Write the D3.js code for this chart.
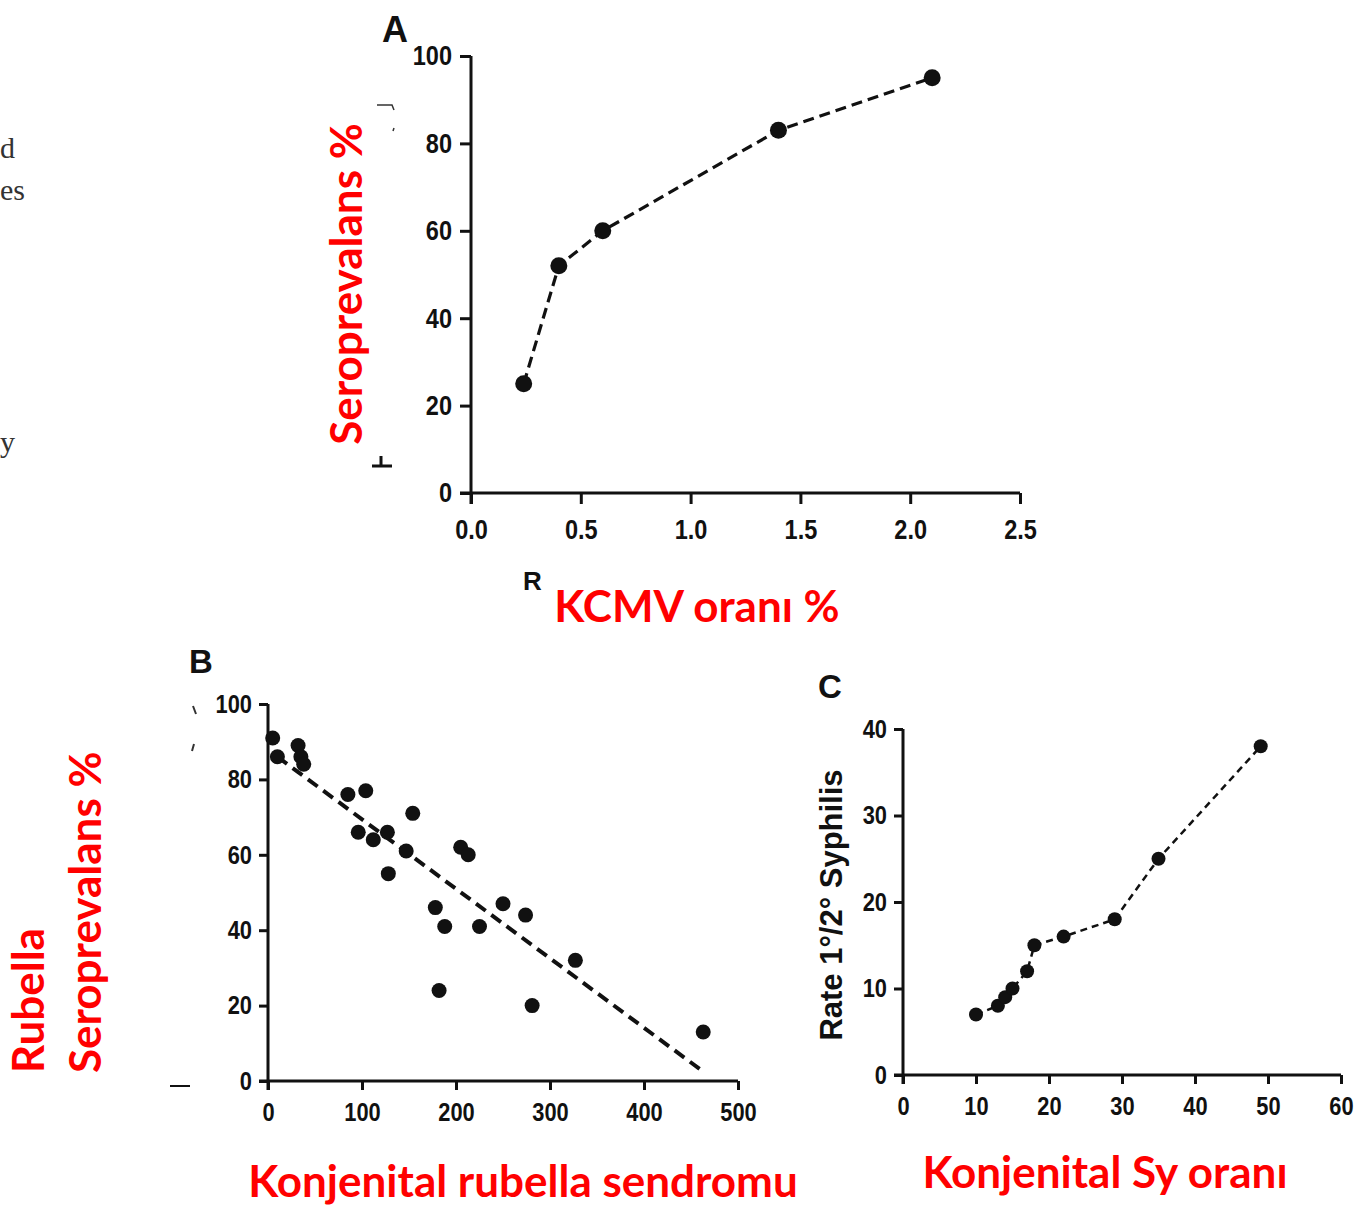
<!DOCTYPE html>
<html>
<head>
<meta charset="utf-8">
<script src="https://cdn.jsdelivr.net/npm/d3@7"></script>
<style>
  body { margin: 0; background: #fff; }
  svg { display: block; }
  .tick text { font-family: "Liberation Sans", Arial, sans-serif; font-weight: bold; fill: #111; }
  .red { font-family: Lato, "Open Sans", sans-serif; font-weight: bold; fill: #ff0000; }
</style>
</head>
<body>
<svg id="chart"></svg>
<script>
// panel A - KCMV
const aX = [0.24, 0.4, 0.6, 1.4, 2.1];
const aY = [25, 52, 60, 83, 95];
const aXTicks = ['0.0', '0.5', '1.0', '1.5', '2.0', '2.5'];
const aYTicks = [0, 20, 40, 60, 80, 100];

// panel B - rubella
const bX = [5, 10, 32, 35, 38, 85, 104, 96, 112, 127, 128, 147, 154, 178, 182, 188, 205, 213, 225, 250, 274, 281, 327, 463];
const bY = [91, 86, 89, 86, 84, 76, 77, 66, 64, 66, 55, 61, 71, 46, 24, 41, 62, 60, 41, 47, 44, 20, 32, 13];
const bFitX = [10, 463];
const bFitY = [86, 2.5];
const bXTicks = [0, 100, 200, 300, 400, 500];
const bYTicks = [0, 20, 40, 60, 80, 100];

// panel C - syphilis
const cX = [10, 13, 14, 15, 17, 18, 22, 29, 35, 49];
const cY = [7, 8, 9, 10, 12, 15, 16, 18, 25, 38];
const cXTicks = [0, 10, 20, 30, 40, 50, 60];
const cYTicks = [0, 10, 20, 30, 40];

const [width, height] = [1366, 1205];

let svg = d3.select('#chart')
  .attr('width', width)
  .attr('height', height)

function panel(o) {
  let x = d3.scaleLinear().domain(o.xDomain).range([o.left, o.right])
  let y = d3.scaleLinear().domain(o.yDomain).range([o.bottom, o.top])
  let g = svg.append('g')

  let xAxis = g.append('g')
    .attr('transform', 'translate(0,' + o.bottom + ')')
    .call(d3.axisBottom(x).tickValues(o.xTicks.map(Number)).tickSizeOuter(0).tickSize(o.tick)
      .tickPadding(o.xPad).tickFormat((d, i) => o.xTicks[i]))
  let yAxis = g.append('g')
    .attr('transform', 'translate(' + o.left + ',0)')
    .call(d3.axisLeft(y).tickValues(o.yTicks).tickSizeOuter(0).tickSize(o.tick).tickPadding(o.yPad))

  ;[xAxis, yAxis].forEach(a => {
    a.select('.domain').attr('stroke', '#111').attr('stroke-width', o.lw)
    a.selectAll('.tick line').attr('stroke', '#111').attr('stroke-width', o.lw)
    a.selectAll('.tick text')
      .style('font-size', o.fs + 'px')
      // condensed look of the original labels
      .each(function() {
        let w = this.getComputedTextLength()
        d3.select(this).attr('textLength', w * 0.84).attr('lengthAdjust', 'spacingAndGlyphs')
      })
  })
  // x domain line starts at the y axis, y axis goes down to the tick end
  xAxis.select('.domain').attr('d', 'M' + (o.left - o.tick) + ',0H' + o.right)
  yAxis.select('.domain').attr('d', 'M0,' + o.top + 'V' + (o.bottom + o.tick))

  let pts = o.xs.map((v, i) => [v, o.ys[i]])
  if (o.connect) {
    g.append('path')
      .attr('d', d3.line().x(d => x(d[0])).y(d => y(d[1]))(pts))
      .attr('fill', 'none')
      .attr('stroke', '#111')
      .attr('stroke-width', o.dashW)
      .attr('stroke-dasharray', o.dash)
  }
  if (o.fit) {
    g.append('line')
      .attr('x1', x(o.fit[0][0])).attr('y1', y(o.fit[1][0]))
      .attr('x2', x(o.fit[0][1])).attr('y2', y(o.fit[1][1]))
      .attr('stroke', '#111')
      .attr('stroke-width', o.dashW)
      .attr('stroke-dasharray', o.dash)
  }
  g.selectAll('circle')
    .data(pts)
    .enter()
    .append('circle')
    .attr('cx', d => x(d[0]))
    .attr('cy', d => y(d[1]))
    .attr('r', o.r)
    .attr('fill', '#111')

  g.append('text')
    .text(o.letter)
    .attr('x', o.letterX)
    .attr('y', o.letterY)
    .style('font-family', 'Liberation Sans, Arial, sans-serif')
    .style('font-weight', 'bold')
    .style('font-size', o.letterSize + 'px')
    .attr('fill', '#111')
  return g
}

panel({
  xDomain: [0, 2.5], yDomain: [0, 100],
  left: 471, right: 1020, top: 56, bottom: 493,
  xTicks: aXTicks, yTicks: aYTicks, tick: 11, xPad: 15, yPad: 8, lw: 3, fs: 28,
  xs: aX, ys: aY, connect: true, dash: '11,6', dashW: 3.2, r: 8.5,
  letter: 'A', letterX: 382, letterY: 42, letterSize: 36
})

panel({
  xDomain: [0, 500], yDomain: [0, 100],
  left: 268, right: 738, top: 704, bottom: 1081,
  xTicks: bXTicks, yTicks: bYTicks, tick: 9, xPad: 13, yPad: 7, lw: 3, fs: 26,
  xs: bX, ys: bY, connect: false, fit: [bFitX, bFitY], dash: '12,7', dashW: 4, r: 7.5,
  letter: 'B', letterX: 189, letterY: 673, letterSize: 33
})

panel({
  xDomain: [0, 60], yDomain: [0, 40],
  left: 903, right: 1341, top: 729, bottom: 1075,
  xTicks: cXTicks, yTicks: cYTicks, tick: 9, xPad: 13, yPad: 7, lw: 3, fs: 26,
  xs: cX, ys: cY, connect: true, dash: '7,5', dashW: 2.5, r: 7,
  letter: 'C', letterX: 818, letterY: 698, letterSize: 33
})

// black y title of panel C
svg.append('text')
  .text('Rate 1°/2°  Syphilis')
  .attr('transform', 'translate(842,905) rotate(-90)')
  .attr('text-anchor', 'middle')
  .style('font-family', 'Liberation Sans, Arial, sans-serif')
  .style('font-weight', 'bold')
  .style('font-size', '31px')
  .attr('fill', '#111')

// red labels
function red(t, x, y, rot, anchor) {
  svg.append('text')
    .attr('class', 'red')
    .text(t)
    .attr('transform', 'translate(' + x + ',' + y + ')' + (rot ? ' rotate(-90)' : ''))
    .attr('text-anchor', anchor || 'middle')
    .style('font-size', '44px')
}
red('Seroprevalans %', 362, 284, true)
red('KCMV oranı %', 697, 622)
red('Rubella', 44, 1073, true, 'start')
red('Seroprevalans %', 101, 1073, true, 'start')
red('Konjenital rubella sendromu', 523, 1197)
red('Konjenital Sy oranı', 1105, 1188)

// leftover bits of the source page
let serif = { 'font-family': 'Liberation Serif, Times New Roman, serif', 'font-size': '30px', 'fill': '#333' }
;[['d', 0, 158], ['es', 0, 200], ['y', 0, 452]].forEach(s => {
  let t = svg.append('text').text(s[0]).attr('x', s[1]).attr('y', s[2])
  Object.keys(serif).forEach(k => t.style(k, serif[k]))
})
svg.append('text').text('R')
  .attr('x', 523).attr('y', 590)
  .style('font-family', 'Liberation Sans, sans-serif')
  .style('font-weight', 'bold').style('font-size', '26px').attr('fill', '#111')
svg.append('path')
  .attr('d', 'M372,466H392M381,466V456')
  .attr('stroke', '#111').attr('stroke-width', 3).attr('fill', 'none')
svg.append('path')
  .attr('d', 'M377,105H392L394,110M394,128L393,131')
  .attr('stroke', '#333').attr('stroke-width', 1.5).attr('fill', 'none')
svg.append('path')
  .attr('d', 'M170,1086H190')
  .attr('stroke', '#111').attr('stroke-width', 2).attr('fill', 'none')
svg.append('path')
  .attr('d', 'M193,706L196,714M194,744L192,751')
  .attr('stroke', '#333').attr('stroke-width', 2).attr('fill', 'none')
</script>
</body>
</html>
